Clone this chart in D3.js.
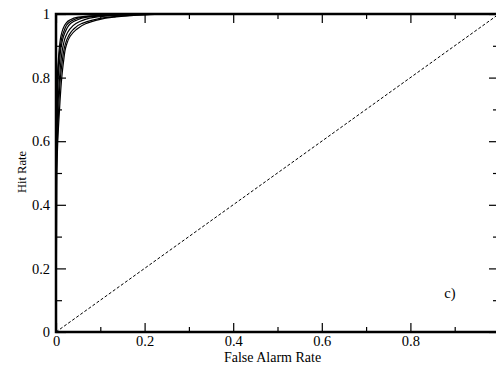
<!DOCTYPE html>
<html><head><meta charset="utf-8">
<script src="https://cdn.jsdelivr.net/npm/d3@7"></script>
<style>html,body{margin:0;padding:0;background:#fff;overflow:hidden} text{font-family:'Liberation Serif','Times New Roman',serif !important}</style>
</head><body>
<svg id="c" width="496" height="365"></svg>
<script>
// Data
const hitLevels = [0, 0.5, 0.6, 0.7, 0.8, 0.85, 0.9, 0.93, 0.95, 0.97, 0.98, 0.99, 0.995, 1.0];
const far1 = [0, 0.000, 0.001, 0.002, 0.003, 0.005, 0.008, 0.011, 0.015, 0.022, 0.030, 0.050, 0.09, 0.18];
const far2 = [0, 0.000, 0.001, 0.002, 0.004, 0.006, 0.010, 0.014, 0.019, 0.027, 0.037, 0.060, 0.10, 0.20];
const far3 = [0, 0.000, 0.001, 0.003, 0.005, 0.008, 0.012, 0.017, 0.023, 0.033, 0.045, 0.070, 0.11, 0.20];
const far4 = [0, 0.001, 0.002, 0.004, 0.008, 0.011, 0.016, 0.022, 0.030, 0.045, 0.060, 0.090, 0.13, 0.22];
const far5 = [0, 0.001, 0.003, 0.006, 0.010, 0.014, 0.020, 0.028, 0.038, 0.058, 0.080, 0.120, 0.16, 0.24];
const far6 = [0, 0.002, 0.004, 0.008, 0.013, 0.017, 0.023, 0.032, 0.045, 0.068, 0.090, 0.130, 0.17, 0.25];
const curves = [far1, far2, far3, far4, far5, far6];
const majorTicks = [0, 0.2, 0.4, 0.6, 0.8];
const yMajorTicks = [0, 0.2, 0.4, 0.6, 0.8, 1];
const minorTicks = [0.1, 0.3, 0.5, 0.7, 0.9];
const xTitle = "False Alarm Rate", yTitle = "Hit Rate", panelLabel = "c)";

const svg = d3.select("#c");
const x = d3.scaleLinear().domain([0, 1]).range([56, 499]);
const y = d3.scaleLinear().domain([0, 1]).range([332, 14]);
const font = "'Liberation Serif','Times New Roman',serif";
const fs = 14.5;

// diagonal
svg.append("line").attr("x1", x(0)).attr("y1", y(0)).attr("x2", x(1)).attr("y2", y(1))
  .attr("stroke", "#000").attr("stroke-width", 1).attr("stroke-dasharray", "3,2");

// curves
const line = d3.line().x(d => x(d[0])).y(d => y(d[1])).curve(d3.curveMonotoneY);
curves.forEach(c => {
  svg.append("path").datum(c.map((f, i) => [f, hitLevels[i]]))
    .attr("d", line).attr("fill", "none").attr("stroke", "#000").attr("stroke-width", 1.2);
});

function styleAxis(g) {
  g.attr("font-family", font).attr("font-size", fs);
  g.select(".domain").remove();
  g.selectAll("line").attr("stroke", "#000").attr("stroke-width", 1.2);
  g.selectAll("text").style("font-family", font).style("font-size", fs + "px").attr("fill", "#000");
}
// bottom
const gb = svg.append("g").attr("transform", `translate(0,${y(0)})`)
  .call(d3.axisBottom(x).tickValues(majorTicks).tickSize(-9).tickFormat(d3.format("")));
styleAxis(gb);
gb.selectAll("text").attr("dy", null).attr("y", 14);
svg.append("g").attr("transform", `translate(0,${y(0)})`)
  .call(d3.axisBottom(x).tickValues(minorTicks).tickSize(-5).tickFormat("")).call(g => styleAxis(g));
// top
svg.append("g").attr("transform", `translate(0,${y(1)})`)
  .call(d3.axisTop(x).tickValues(majorTicks).tickSize(-9).tickFormat("")).call(g => styleAxis(g));
svg.append("g").attr("transform", `translate(0,${y(1)})`)
  .call(d3.axisTop(x).tickValues(minorTicks).tickSize(-5).tickFormat("")).call(g => styleAxis(g));
// left
const gl = svg.append("g").attr("transform", `translate(${x(0)},0)`)
  .call(d3.axisLeft(y).tickValues(yMajorTicks).tickSize(-10).tickFormat(d3.format("")));
styleAxis(gl);
gl.selectAll("text").attr("x", -6);
svg.append("g").attr("transform", `translate(${x(0)},0)`)
  .call(d3.axisLeft(y).tickValues(minorTicks).tickSize(-6).tickFormat("")).call(g => styleAxis(g));
// right
svg.append("g").attr("transform", `translate(${x(1)},0)`)
  .call(d3.axisRight(y).tickValues(yMajorTicks).tickSize(-10).tickFormat("")).call(g => styleAxis(g));
svg.append("g").attr("transform", `translate(${x(1)},0)`)
  .call(d3.axisRight(y).tickValues(minorTicks).tickSize(-6).tickFormat("")).call(g => styleAxis(g));

// frame
svg.append("rect").attr("x", x(0)).attr("y", y(1)).attr("width", x(1) - x(0)).attr("height", y(0) - y(1))
  .attr("fill", "none").attr("stroke", "#000").attr("stroke-width", 2.5);

// titles
svg.append("text").attr("x", 272.5).attr("y", 362).attr("text-anchor", "middle")
  .style("font-family", font).style("font-size", "14px").text(xTitle);
svg.append("text").attr("transform", "translate(25.5,172) rotate(-90)").attr("text-anchor", "middle")
  .style("font-family", font).style("font-size", "12.5px").text(yTitle);
svg.append("text").attr("x", 450).attr("y", 298).attr("text-anchor", "middle")
  .style("font-family", font).style("font-size", "14.5px").text(panelLabel);
</script>
</body></html>
